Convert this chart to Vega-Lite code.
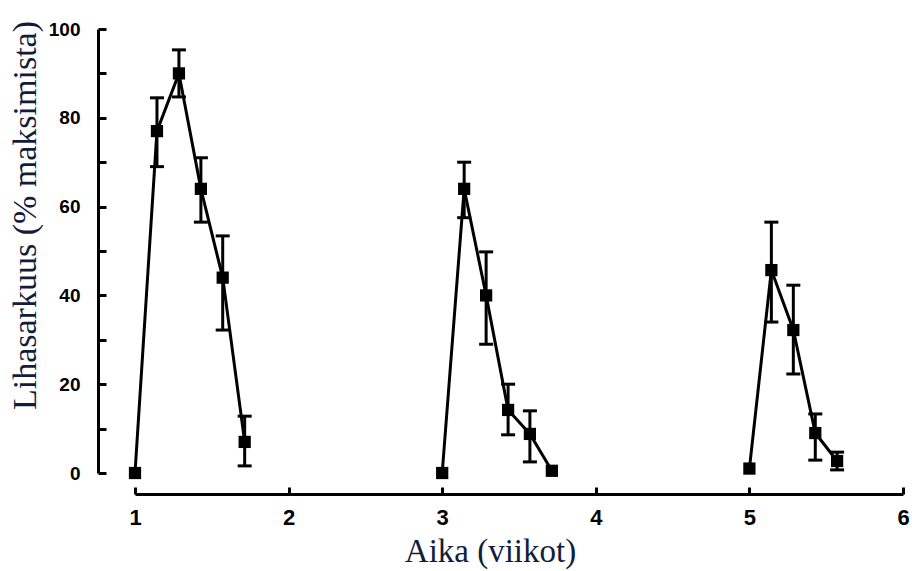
{
  "$schema": "https://vega.github.io/schema/vega-lite/v6.json",
  "width": 768,
  "height": 444,
  "autosize": "none",
  "padding": {"left": 135, "top": 29, "right": 9, "bottom": 98},
  "background": "white",
  "config": {"view": {"stroke": null}},
  "data": {
    "values": [
      {"week": 1.0, "g": "a", "y": 0},
      {"week": 1.143, "g": "a", "y": 77, "lo": 69, "hi": 84.5},
      {"week": 1.286, "g": "a", "y": 90, "lo": 84.7, "hi": 95.3},
      {"week": 1.429, "g": "a", "y": 64, "lo": 56.5, "hi": 71},
      {"week": 1.571, "g": "a", "y": 44, "lo": 32.2, "hi": 53.4},
      {"week": 1.714, "g": "a", "y": 7, "lo": 1.6, "hi": 12.8},
      {"week": 3.0, "g": "b", "y": 0},
      {"week": 3.143, "g": "b", "y": 64, "lo": 57.5, "hi": 70},
      {"week": 3.286, "g": "b", "y": 40, "lo": 29, "hi": 49.8},
      {"week": 3.429, "g": "b", "y": 14.2, "lo": 8.6, "hi": 20},
      {"week": 3.571, "g": "b", "y": 8.8, "lo": 2.5, "hi": 14},
      {"week": 3.714, "g": "b", "y": 0.5},
      {"week": 5.0, "g": "c", "y": 1},
      {"week": 5.143, "g": "c", "y": 45.7, "lo": 34, "hi": 56.5},
      {"week": 5.286, "g": "c", "y": 32.2, "lo": 22.3, "hi": 42.3},
      {"week": 5.429, "g": "c", "y": 9, "lo": 2.9, "hi": 13.3},
      {"week": 5.571, "g": "c", "y": 2.7, "lo": 0.7, "hi": 4.7}
    ]
  },
  "encoding": {
    "x": {
      "field": "week", "type": "quantitative",
      "scale": {"domain": [1, 6], "nice": false, "zero": false},
      "axis": {
        "title": "Aika (viikot)",
        "values": [1, 2, 3, 4, 5, 6],
        "format": "d",
        "offset": 21,
        "grid": false,
        "labelFlush": false,
        "domainColor": "black", "domainWidth": 3,
        "tickColor": "black", "tickWidth": 3, "tickSize": -7,
        "labelFont": "Liberation Sans Narrow, Arial Narrow, Liberation Sans",
        "labelFontWeight": "bold", "labelFontSize": 22, "labelColor": "black",
        "labelPadding": 20,
        "titleFont": "Liberation Serif", "titleFontSize": 33, "titleFontWeight": "normal",
        "titleColor": "#141c3c",
        "titleX": 355, "titleY": 57, "titleAlign": "center", "titleBaseline": "middle", "titleAnchor": null
      }
    },
    "y": {
      "field": "y", "type": "quantitative",
      "scale": {"domain": [0, 100], "nice": false, "zero": false},
      "axis": {
        "title": "Lihasarkuus (% maksimista)",
        "values": [0, 10, 20, 30, 40, 50, 60, 70, 80, 90, 100],
        "labelExpr": "datum.value % 20 == 0 ? datum.label : ''",
        "offset": 37,
        "grid": false,
        "labelFlush": false,
        "domainColor": "black", "domainWidth": 3,
        "tickColor": "black", "tickWidth": 3, "tickSize": -8,
        "labelFont": "Liberation Sans Narrow, Arial Narrow, Liberation Sans",
        "labelFontWeight": "bold", "labelFontSize": 19, "labelColor": "black",
        "labelPadding": 26,
        "titleFont": "Liberation Serif", "titleFontSize": 34, "titleFontWeight": "normal",
        "titleColor": "#141c3c",
        "titleAngle": -90,
        "titleX": -73, "titleY": 186, "titleAlign": "center", "titleBaseline": "middle", "titleAnchor": null
      }
    }
  },
  "layer": [
    {
      "mark": {"type": "line", "color": "black", "strokeWidth": 3},
      "encoding": {"detail": {"field": "g"}, "order": {"field": "week"}}
    },
    {
      "transform": [{"filter": "isValid(datum.lo)"}],
      "mark": {"type": "rule", "color": "black", "strokeWidth": 3, "opacity": 1},
      "encoding": {"y": {"field": "lo", "type": "quantitative"}, "y2": {"field": "hi"}}
    },
    {
      "transform": [{"filter": "isValid(datum.lo)"}],
      "mark": {"type": "tick", "color": "black", "orient": "horizontal", "size": 14, "thickness": 3, "opacity": 1},
      "encoding": {"y": {"field": "lo", "type": "quantitative"}}
    },
    {
      "transform": [{"filter": "isValid(datum.hi)"}],
      "mark": {"type": "tick", "color": "black", "orient": "horizontal", "size": 14, "thickness": 3, "opacity": 1},
      "encoding": {"y": {"field": "hi", "type": "quantitative"}}
    },
    {
      "mark": {"type": "square", "color": "black", "filled": true, "opacity": 1, "size": 150}
    }
  ]
}
